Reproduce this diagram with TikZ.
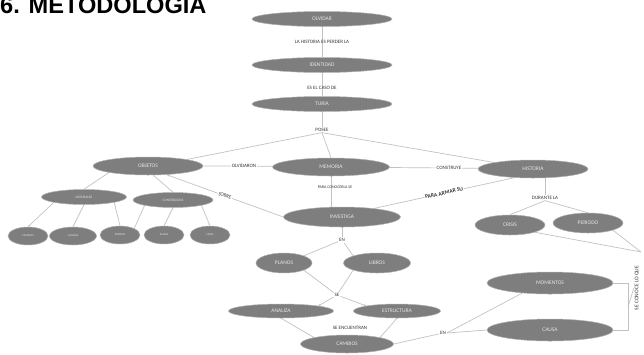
\documentclass[tikz,border=0pt]{standalone}
\usepackage{fontspec}
\setmainfont{Carlito}
\newfontfamily\titlefont{Liberation Sans}
\usetikzlibrary{shapes.geometric,arrows.meta,backgrounds}
\definecolor{ellfill}{HTML}{7E7E7E}
\definecolor{ellline}{HTML}{B0B0B0}
\definecolor{elltext}{HTML}{E6E6E6}
\definecolor{lineC}{HTML}{C2C2C2}
\definecolor{labtext}{HTML}{333333}
\tikzset{
  el/.style={ellipse, fill=ellfill, draw=ellline, line width=0.5pt, inner sep=0pt,
    text=elltext, font=\fontsize{5.5}{6}\selectfont},
  sm/.style={el, minimum width=40pt, minimum height=18pt, font=\fontsize{2.8}{3}\selectfont},
  lab/.style={font=\fontsize{5}{6}\selectfont, text=labtext, inner sep=0.8pt},
  con/.style={draw=lineC, line width=0.7pt},
  arr/.style={con, -{Stealth[length=2.5pt,width=2pt]}},
}
\begin{document}
\begin{tikzpicture}[x=1pt,y=-1pt]
\useasboundingbox (0,0) rectangle (644,354);
\node[anchor=base west, inner sep=0pt, font=\titlefont\bfseries\fontsize{23.6}{26}\selectfont] (title) at (0,13) {6. METODOLOGIA};
% main column
\node[el, minimum width=140pt, minimum height=15pt] (olvidar) at (322,19) {OLVIDAR};
\node[lab] (lab1) at (322,42) {LA HISTORIA ES PERDER LA};
\node[el, minimum width=140pt, minimum height=15pt] (identidad) at (322,65) {IDENTIDAD};
\node[lab] (lab2) at (322,88) {ES EL CASO DE};
\node[el, minimum width=140pt, minimum height=15pt] (turia) at (322,104) {TURIA};
\node[lab] (posee) at (322,130) {POSEE};
% second row
\node[el, minimum width=110pt, minimum height=18pt] (objetos) at (148,166) {OBJETOS};
\node[lab] (olvidaron) at (244,166) {OLVIDARON};
\node[el, minimum width=117pt, minimum height=18pt] (memoria) at (331,167) {MEMORIA};
\node[lab] (construye) at (449,168) {CONSTRUYE};
\node[el, minimum width=110pt, minimum height=18pt] (historia) at (533,169) {HISTORIA};
\node[lab, font=\fontsize{4}{5}\selectfont] (paracon) at (335,187) {PARA CONOCERLA SE};
\node[el, minimum width=117pt, minimum height=20pt] (investiga) at (342,217) {INVESTIGA};
% lower middle
\node[lab] (en1) at (342,240) {EN};
\node[el, minimum width=56pt, minimum height=20pt] (planos) at (284,263) {PLANOS};
\node[el, minimum width=67pt, minimum height=20pt] (libros) at (377,263) {LIBROS};
\node[lab] (se) at (337,295) {SE};
\node[el, minimum width=105pt, minimum height=14pt] (analiza) at (281,311) {ANALIZA};
\node[el, minimum width=87pt, minimum height=14pt] (estructura) at (397,311) {ESTRUCTURA};
\node[lab] (seenc) at (350,328) {SE ENCUENTRAN};
\node[el, minimum width=93pt, minimum height=18pt] (cambios) at (347,344) {CAMBIOS};
\node[lab] (en2) at (443,333) {EN};
\node[el, minimum width=126pt, minimum height=22pt] (momentos) at (550,283) {MOMENTOS};
\node[el, minimum width=126pt, minimum height=22pt] (causa) at (550,330) {CAUSA};
% right
\node[lab] (durante) at (545,198) {DURANTE LA};
\node[el, minimum width=70pt, minimum height=20pt] (crisis) at (510,225) {CRISIS};
\node[el, minimum width=70pt, minimum height=20pt] (periodo) at (588,223) {PERIODO};
\node[lab, rotate=90, font=\fontsize{5.5}{6}\selectfont] (seconoce) at (637,288) {SE CONOCE LO QUE};
\coordinate (topR) at (641,252);
% left small nodes
\node[el, minimum width=85pt, minimum height=15pt, font=\fontsize{3.5}{4}\selectfont] (naturales) at (84,197) {NATURALES};
\node[el, minimum width=80pt, minimum height=15pt, font=\fontsize{3.5}{4}\selectfont] (construidos) at (173,200) {CONSTRUIDOS};
\node[sm] (s1) at (28,236) {CAMINOS};
\node[sm, minimum width=47pt] (s2) at (73,236) {CANALES};
\node[sm] (s3) at (120,235) {PUENTES};
\node[sm] (s4) at (164,235) {PLAZAS};
\node[sm] (s5) at (210,235) {CASAS};
\coordinate (bk) at (628,307);
\begin{scope}[on background layer]
\draw[con] (olvidar) -- (identidad);
\draw[con] (identidad) -- (turia);
\draw[con] (turia) -- (posee);
\draw[con] (posee.south) -- (objetos.north east);
\draw[con] (posee.south) -- (memoria.north);
\draw[con] (posee.south) -- (historia.north west);
\draw[con] (objetos) -- (olvidaron) -- (memoria);
\draw[con] (memoria) -- (construye) -- (historia);
\draw[con] (memoria.south) -- (memoria.south |- investiga.north);
\draw[arr] (investiga.west) -- node[lab, sloped, fill=white] (sobre) {SOBRE} (objetos.-25);
\draw[con] (investiga.15) -- node[lab, sloped, fill=white, font=\fontsize{5.5}{6}\selectfont\bfseries] (paraarmar) {PARA ARMAR SU} (historia.205);
\draw[con] (investiga) -- (en1);
\draw[con] (en1) -- (planos.north east);
\draw[con] (en1) -- (libros.north west);
\draw[con] (planos.south east) -- (se);
\draw[con] (libros.south west) -- (se);
\draw[arr] (se) -- (analiza.north east);
\draw[arr] (se) -- (estructura.north west);
\draw[con] (analiza.south) -- (cambios.north west);
\draw[con] (estructura.south) -- (cambios.north east);
\draw[con] (cambios.east) -- (en2);
\draw[con] (en2.east) -- (momentos.200);
\draw[con] (en2.east) -- (causa.west);
\draw[con] (momentos.east) -| (bk) |- (causa.east);
\draw[con] (bk) -- (seconoce.north);
\draw[con] (durante.north |- historia.south) -- (durante.north);
\draw[con] (durante.south) -- (crisis.north);
\draw[con] (durante.south) -- (periodo.north);
\draw[con] (crisis.south east) -- (topR);
\draw[con] (periodo.south east) -- (topR);
\draw[con] (objetos.south west) -- (naturales.north);
\draw[con] (objetos.-60) -- (construidos.north);
\draw[arr] (naturales.south west) -- (s1.north);
\draw[con] (naturales.south) -- (s2.north);
\draw[con] (naturales.south east) -- (s3.north);
\draw[con] (construidos.south west) -- (s3.north east);
\draw[con] (construidos.south) -- (s4.north);
\draw[arr] (construidos.south east) -- (s5.north);
\end{scope}
\end{tikzpicture}
\end{document}
